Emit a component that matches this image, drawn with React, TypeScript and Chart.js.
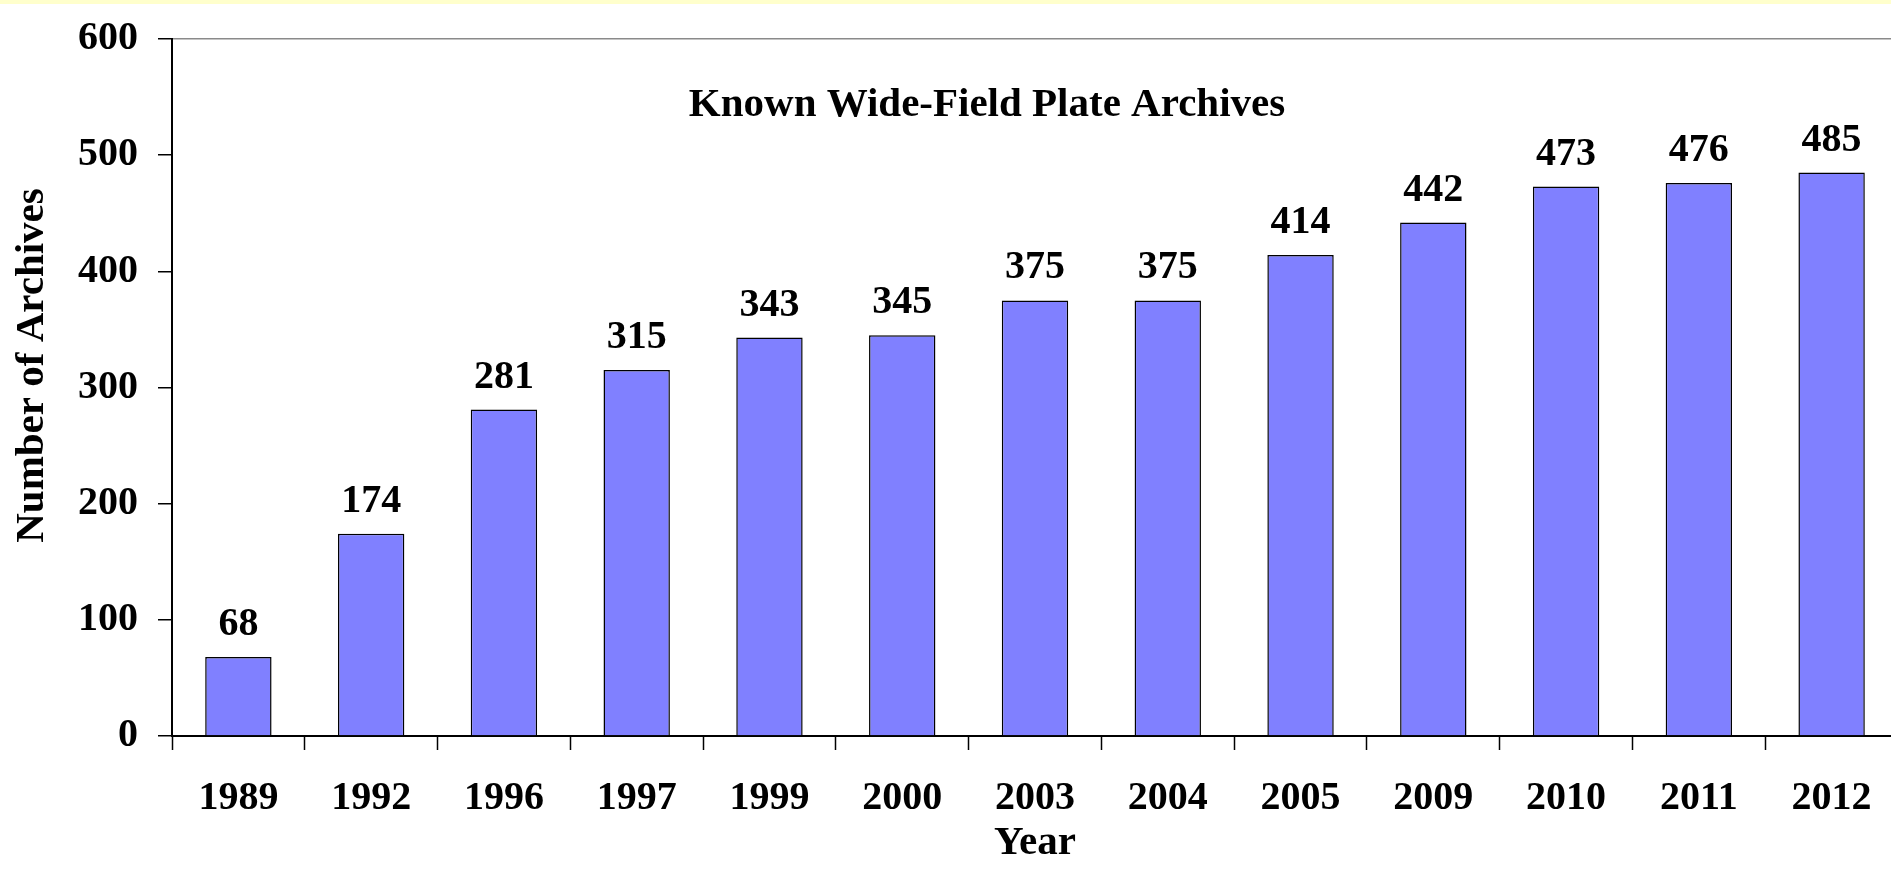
import { useEffect, useRef } from "react";
import { Chart, registerables } from "chart.js";

Chart.register(...registerables);

const years = ["1989", "1992", "1996", "1997", "1999", "2000", "2003", "2004", "2005", "2009", "2010", "2011", "2012"];
const archives = [68, 174, 281, 315, 343, 345, 375, 375, 414, 442, 473, 476, 485];
const yTicks = [0, 100, 200, 300, 400, 500, 600];
const chartTitle = "Known Wide-Field Plate Archives";
const xTitle = "Year";
const yTitle = "Number of Archives";

const FONT = "'Liberation Serif', 'Times New Roman', Times, serif";

const labelsPlugin = {
  id: "labelsPlugin",
  afterDatasetsDraw(chart: any) {
    const ctx = chart.ctx;
    const a = chart.chartArea;
    const meta = chart.getDatasetMeta(0);
    ctx.save();
    ctx.fillStyle = "#000";
    ctx.textAlign = "center";
    ctx.textBaseline = "alphabetic";
    ctx.font = `bold 40px ${FONT}`;
    meta.data.forEach((el: any, i: number) => {
      ctx.fillText(String(archives[i]), el.x, el.y - 22);
    });
    ctx.font = `bold 41px ${FONT}`;
    ctx.fillText(chartTitle, a.left + (a.right - a.left) * 0.4722, a.top + 77);
    ctx.translate(43, (a.top + a.bottom) / 2 - 22);
    ctx.rotate(-Math.PI / 2);
    ctx.fillText(yTitle, 0, 0);
    ctx.restore();
  },
};

export default function App() {
  const ref = useRef<HTMLCanvasElement | null>(null);

  useEffect(() => {
    if (!ref.current) return;
    const chart = new Chart(ref.current, {
      type: "bar",
      data: {
        labels: years,
        datasets: [
          {
            data: archives,
            backgroundColor: "#8080ff",
            borderColor: "#000000",
            borderWidth: 1.5,
            barPercentage: 0.5,
            categoryPercentage: 1,
          },
        ],
      },
      options: {
        animation: false,
        responsive: false,
        devicePixelRatio: 1,
        layout: { padding: { top: 39, left: 0, right: 0, bottom: 0 } },
        plugins: {
          legend: { display: false },
          tooltip: { enabled: false },
          title: { display: false },
        },
        scales: {
          x: {
            type: "category",
            offset: true,
            grid: {
              display: true,
              offset: true,
              drawOnChartArea: false,
              drawTicks: true,
              tickLength: 14,
              tickColor: "#000",
              tickWidth: 1.5,
            },
            border: { display: true, color: "#000", width: 2 },
            ticks: {
              color: "#000",
              font: { family: FONT, size: 40, weight: "bold" },
              padding: 25,
              maxRotation: 0,
              minRotation: 0,
              autoSkip: false,
            },
            title: {
              display: true,
              text: xTitle,
              color: "#000",
              font: { family: FONT, size: 41, weight: "bold" },
              padding: { top: 0, bottom: 5 },
            },
            afterFit: (s: any) => {
              s.height = 137;
            },
          },
          y: {
            min: 0,
            max: 600,
            afterBuildTicks: (s: any) => {
              s.ticks = yTicks.map((v) => ({ value: v }));
            },
            grid: {
              color: (c: any) => (c.tick && c.tick.value === 600 ? "#8a8a8a" : "rgba(0,0,0,0)"),
              lineWidth: 1.5,
              drawTicks: true,
              tickLength: 14,
              tickColor: "#000",
              tickWidth: 1.5,
            },
            border: { display: true, color: "#000", width: 2 },
            ticks: {
              color: "#000",
              font: { family: FONT, size: 40, weight: "bold", lineHeight: 0.8 },
              padding: 20,
            },
            afterFit: (s: any) => {
              s.width = 172;
            },
          },
        },
      },
      plugins: [labelsPlugin],
    } as any);
    return () => chart.destroy();
  }, []);

  return (
    <div
      style={{
        position: "fixed",
        left: 0,
        top: 0,
        width: 1891,
        height: 873,
        overflow: "hidden",
        background: "#ffffff",
      }}
    >
      <canvas ref={ref} width={1898} height={873} style={{ display: "block" }} />
      <div
        style={{
          position: "absolute",
          left: 0,
          top: 0,
          width: 1891,
          height: 4,
          background: "#ffffcc",
        }}
      />
    </div>
  );
}
